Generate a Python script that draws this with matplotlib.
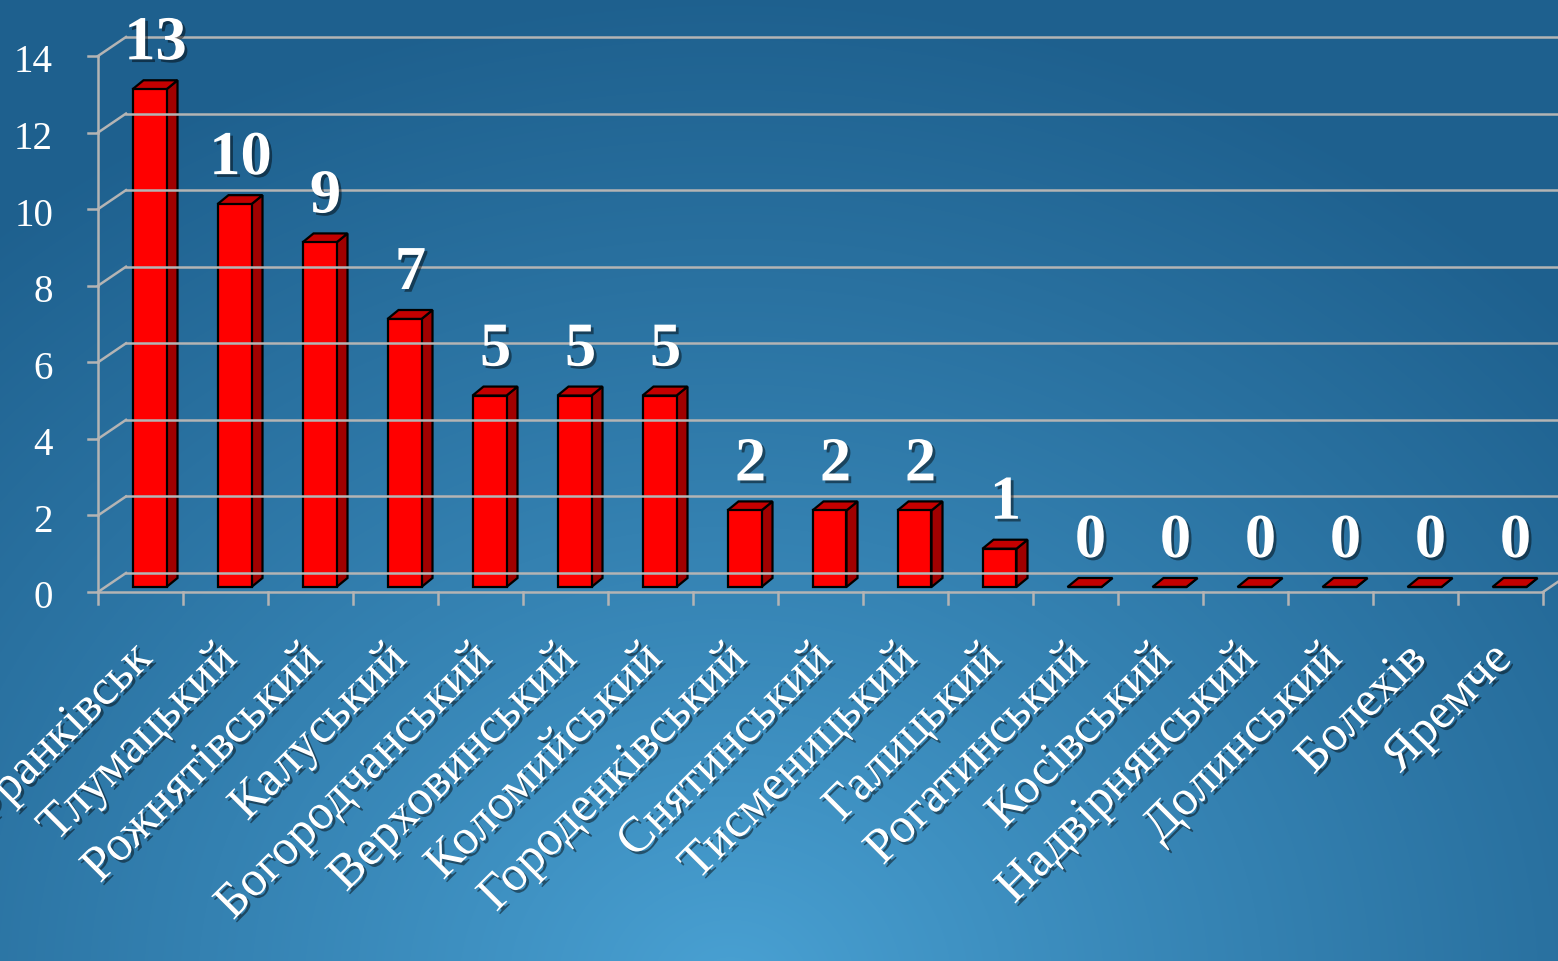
import numpy as np
import matplotlib.pyplot as plt
import matplotlib.patheffects as pe
from matplotlib.patches import Polygon
from matplotlib.lines import Line2D
from matplotlib.transforms import IdentityTransform

# data
districts = ["Івано-Франківськ", "Тлумацький", "Рожнятівський", "Калуський",
             "Богородчанський", "Верховинський", "Коломийський", "Городенківський",
             "Снятинський", "Тисменицький", "Галицький", "Рогатинський",
             "Косівський", "Надвірнянський", "Долинський", "Болехів", "Яремче"]
cases = [13, 10, 9, 7, 5, 5, 5, 2, 2, 2, 1, 0, 0, 0, 0, 0, 0]
y_ticks = [0, 2, 4, 6, 8, 10, 12, 14]

W, H = 1558, 962
fig = plt.figure(figsize=(W / 100, H / 100), dpi=100)

# blue radial background
bg = fig.add_axes([0, 0, 1, 1])
bg.axis("off")
yy, xx = np.mgrid[0:H, 0:W]
r = np.hypot((xx - 730) / 1150, (yy - 990) / 1000)
t = np.clip(r, 0, 1) ** 0.9
light = np.array([74, 162, 212]) / 255
dark = np.array([30, 96, 142]) / 255
img = light * (1 - t)[..., None] + dark * t[..., None]
bg.imshow(img, extent=[0, W, H, 0], aspect="auto")
bg.set_xlim(0, W)
bg.set_ylim(H, 0)

ax = fig.add_axes([98 / W, (H - 593) / H, 1445 / W, 536 / H])
ax.set_xlim(-0.5, len(cases) - 0.5)
ax.set_ylim(0, 14)
ax.axis("off")

ident = IdentityTransform()
grid_col = "#b4b4b4"
wall_dx, wall_dy = 28, 19      # back wall offset in pixels
bar_dx, bar_dy = 9, 5          # bar front plane offset
depth_dx, depth_dy = 11, 9     # bar depth
x_left = -0.5
x_right = len(cases) - 0.5


def px(x, y):
    return ax.transData.transform((x, y))


def line(p, q, **kw):
    fig.add_artist(Line2D([p[0], q[0]], [p[1], q[1]], transform=ident,
                          color=grid_col, lw=1.8, **kw))


# back wall, gridlines and axes
for v in y_ticks:
    p = px(x_left, v)
    b = (p[0] + wall_dx, p[1] + wall_dy)
    line(p, b)
    line(b, (W, b[1]))
    line((p[0] - 10, p[1]), p)
    fig.text((p[0] - 45) / W, (p[1] - 6) / H, str(v), ha="right", va="center",
             fontsize=28, color="white", family="Liberation Serif")
line(px(x_left, 0), px(x_left, 14))
p0, p1 = px(x_left, 0), px(x_right, 0)
line(p0, p1)
line(p1, (p1[0] + wall_dx, p1[1] + wall_dy))
for i in range(len(cases) + 1):
    p = px(x_left + i, 0)
    line(p, (p[0], p[1] - 12))

shadow = [pe.withSimplePatchShadow(offset=(2, -2), shadow_rgbFace="black", alpha=0.45)]

# 3D bars
for i, v in enumerate(cases):
    a = px(i - 0.2, 0)
    c = px(i + 0.2, v)
    x0, y0 = a[0] + bar_dx, a[1] + bar_dy
    x1, y1 = c[0] + bar_dx, c[1] + bar_dy
    top = [(x0, y1), (x1, y1), (x1 + depth_dx, y1 + depth_dy), (x0 + depth_dx, y1 + depth_dy)]
    side = [(x1, y0), (x1 + depth_dx, y0 + depth_dy), (x1 + depth_dx, y1 + depth_dy), (x1, y1)]
    front = [(x0, y0), (x1, y0), (x1, y1), (x0, y1)]
    for pts, col in [(side, "#a00000"), (top, "#c40000"), (front, "#ff0000")]:
        fig.add_artist(Polygon(pts, closed=True, transform=ident, facecolor=col,
                               edgecolor="black", lw=1.6, joinstyle="miter"))
    fig.text(((x0 + x1) / 2 + 6) / W, (y1 + 30) / H, str(v), ha="center", va="baseline",
             fontsize=45, fontweight="bold", color="white", family="Liberation Serif",
             path_effects=shadow)

# rotated district names
for i, name in enumerate(districts):
    p = px(i, 0)
    fig.text((p[0] + 4) / W, (p[1] - 60) / H, name, rotation=45, rotation_mode="anchor",
             ha="right", va="center", fontsize=36, color="white",
             family="Liberation Serif", path_effects=shadow)

fig.savefig("out.png", dpi=100)
